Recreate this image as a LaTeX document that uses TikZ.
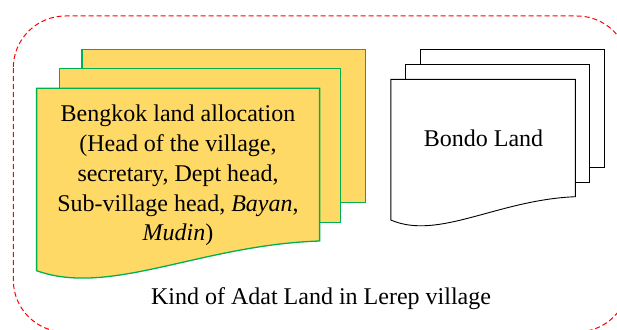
\documentclass[tikz,border=0pt]{standalone}
\usepackage{fontspec}
\setmainfont{Liberation Serif}
\definecolor{docyellow}{RGB}{255,217,102}
\definecolor{docgreen}{RGB}{0,176,80}
\definecolor{framered}{RGB}{255,0,0}
\tikzset{
  yellowsheet/.style={fill=docyellow, draw=docgreen, line width=1.3pt, line join=miter},
  whitesheet/.style={fill=white, draw=black, line width=0.9pt, line join=miter},
  frameline/.style={draw=framered, line width=1pt, dash pattern=on 5pt off 3pt, rounded corners=52pt},
  labeltext/.style={font=\fontsize{24}{29.75}\selectfont, align=center, inner sep=0pt}
}
\newcommand{\wavedoc}[6]{%
  \pgfmathsetmacro{\wdW}{#4-#2}%
  \pgfmathsetmacro{\wdD}{#6-#5}%
  \pgfmathsetmacro{\wdAx}{#2+0.259*\wdW}%
  \pgfmathsetmacro{\wdAy}{#6+0.885*\wdD}%
  \pgfmathsetmacro{\wdBx}{#2+0.577*\wdW}%
  \pgfmathsetmacro{\wdBy}{#5+0.135*\wdD}%
  \path[#1] (#2,#3) -- (#4,#3) -- (#4,#5) .. controls (\wdBx,\wdBy) and (\wdAx,\wdAy) .. (#2,#6) -- cycle;%
}
\begin{document}
\begin{tikzpicture}[x=1pt, y=-1pt]
\useasboundingbox (0,0) rectangle (617,329);
\clip (0,0) rectangle (617,329);
% frame
\path[frameline] (13.3,16) rectangle (629,332);
% yellow stack
\path[yellowsheet] (81.9,49.3) rectangle (365.2,202.3);
\path[yellowsheet] (59.8,68.3) rectangle (340.8,222.7);
\wavedoc{yellowsheet}{36.6}{88.3}{319.6}{241}{270.7}
% white stack
\path[whitesheet] (420.3,49.3) rectangle (604.9,167);
\path[whitesheet] (405.7,64) rectangle (589.1,182.3);
\wavedoc{whitesheet}{390.8}{79.3}{575.4}{196.7}{220}
% texts
\node[labeltext] (bengkok) at (178,175.5) {Bengkok land allocation\\(Head of the village,\\secretary, Dept head,\\Sub-village head, \textit{Bayan},\\\textit{Mudin})};
\node[labeltext, anchor=base] (bondo) at (483.5,146.7) {Bondo Land};
\node[labeltext, anchor=base] (kind) at (321,304) {Kind of Adat Land in Lerep village};
\end{tikzpicture}
\end{document}
